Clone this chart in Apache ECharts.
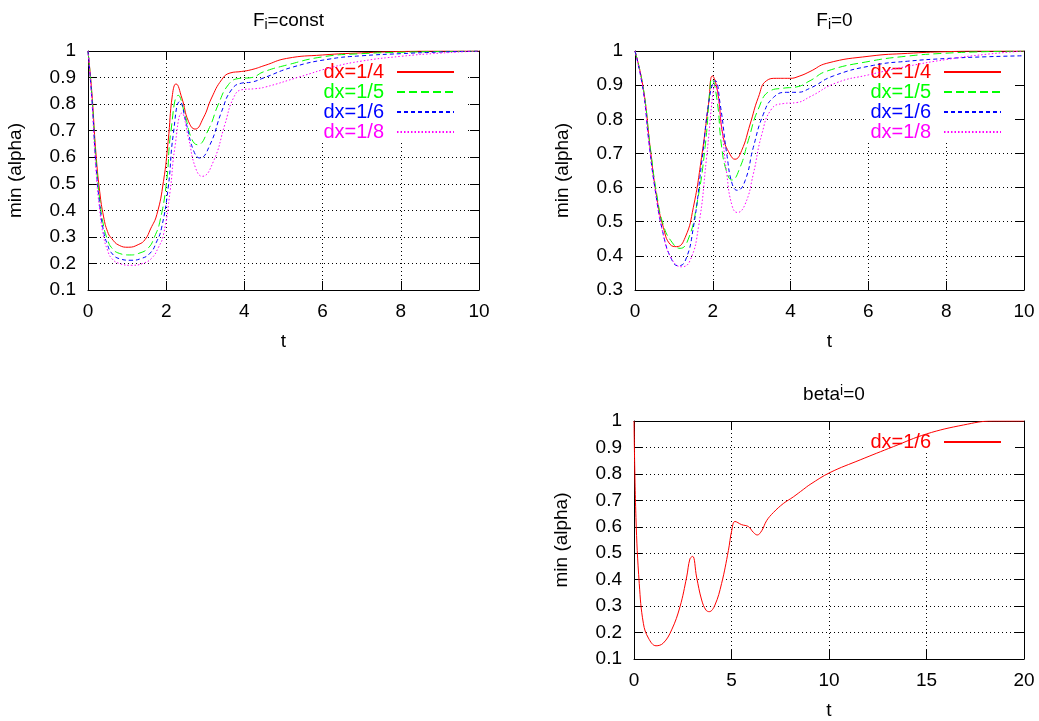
<!DOCTYPE html>
<html>
<head>
<meta charset="utf-8">
<script src="https://cdn.jsdelivr.net/npm/echarts@6.0.0/dist/echarts.min.js"></script>
<style>html,body{margin:0;padding:0;background:#fff;}#chart{width:1039px;height:721px;}</style>
</head>
<body>
<div id="chart"></div>
<script>
// ---------- Panel 1: F_i = const ----------
const tConst14 = [0, 0.1, 0.2, 0.3, 0.4, 0.5, 0.6, 0.8, 1.03, 1.3, 1.46, 1.6, 1.76, 1.93, 2.05, 2.16, 2.25, 2.4, 2.57, 2.74, 2.95, 3.16, 3.42, 3.63, 3.93, 4.19, 4.53, 5.08, 6.0, 7.0, 8.0, 9.0, 10];
const vConst14 = [1, 0.84, 0.62, 0.47, 0.375, 0.32, 0.295, 0.268, 0.261, 0.272, 0.29, 0.33, 0.384, 0.509, 0.66, 0.836, 0.876, 0.823, 0.735, 0.706, 0.748, 0.823, 0.892, 0.917, 0.923, 0.93, 0.946, 0.972, 0.985, 0.993, 0.998, 1, 1];
const tConst15 = [0, 0.1, 0.2, 0.3, 0.4, 0.5, 0.6, 0.8, 1.07, 1.3, 1.54, 1.7, 1.84, 2.01, 2.12, 2.31, 2.48, 2.65, 2.8, 3.08, 3.33, 3.59, 3.84, 4.19, 4.48, 5.08, 6.0, 7.0, 8.0, 9.0, 10];
const vConst15 = [1, 0.83, 0.6, 0.44, 0.34, 0.29, 0.26, 0.238, 0.232, 0.238, 0.258, 0.3, 0.359, 0.509, 0.697, 0.833, 0.76, 0.67, 0.647, 0.704, 0.798, 0.873, 0.896, 0.9, 0.921, 0.947, 0.978, 0.99, 0.995, 0.998, 1];
const tConst16 = [0, 0.1, 0.2, 0.3, 0.4, 0.5, 0.6, 0.8, 1.1, 1.35, 1.59, 1.75, 1.88, 2.05, 2.18, 2.35, 2.52, 2.7, 2.86, 3.12, 3.42, 3.67, 3.93, 4.19, 4.48, 5.25, 6.19, 7.0, 8.0, 9.0, 10];
const vConst16 = [1, 0.82, 0.58, 0.42, 0.32, 0.27, 0.24, 0.218, 0.212, 0.218, 0.239, 0.28, 0.333, 0.484, 0.685, 0.81, 0.723, 0.625, 0.597, 0.647, 0.773, 0.854, 0.879, 0.883, 0.898, 0.94, 0.97, 0.982, 0.99, 0.996, 1];
const tConst18 = [0, 0.1, 0.2, 0.3, 0.4, 0.5, 0.6, 0.8, 1.12, 1.4, 1.63, 1.8, 1.93, 2.1, 2.22, 2.4, 2.57, 2.75, 2.92, 3.21, 3.5, 3.72, 3.93, 4.27, 4.53, 5.42, 6.27, 7.0, 8.0, 9.0, 10];
const vConst18 = [1, 0.81, 0.56, 0.40, 0.3, 0.25, 0.22, 0.2, 0.193, 0.2, 0.22, 0.26, 0.308, 0.472, 0.635, 0.766, 0.672, 0.56, 0.528, 0.585, 0.723, 0.823, 0.854, 0.858, 0.864, 0.903, 0.94, 0.962, 0.98, 0.992, 1];

// ---------- Panel 2: F_i = 0 ----------
const tZero14 = [0, 0.21, 0.39, 0.56, 0.73, 0.9, 1.07, 1.29, 1.5, 1.71, 1.89, 1.99, 2.12, 2.27, 2.44, 2.57, 2.74, 2.96, 3.17, 3.38, 3.64, 3.98, 4.24, 4.5, 4.93, 6.04, 7, 8, 9, 10];
const vZero14 = [1, 0.893, 0.717, 0.571, 0.483, 0.434, 0.427, 0.454, 0.542, 0.688, 0.844, 0.927, 0.883, 0.747, 0.698, 0.683, 0.708, 0.786, 0.864, 0.913, 0.92, 0.92, 0.927, 0.94, 0.964, 0.985, 0.993, 0.998, 1, 1];
const tZero15 = [0, 0.21, 0.39, 0.56, 0.73, 0.95, 1.16, 1.37, 1.59, 1.8, 1.93, 1.97, 2.1, 2.23, 2.36, 2.49, 2.7, 2.91, 3.17, 3.47, 3.81, 4.16, 4.5, 4.93, 6.04, 7, 7.9, 9, 10];
const vZero15 = [1, 0.893, 0.72, 0.58, 0.49, 0.44, 0.422, 0.449, 0.551, 0.717, 0.893, 0.918, 0.864, 0.717, 0.645, 0.622, 0.659, 0.737, 0.83, 0.883, 0.891, 0.895, 0.913, 0.941, 0.97, 0.985, 0.993, 0.998, 1];
const tZero16 = [0, 0.21, 0.35, 0.51, 0.73, 0.94, 1.11, 1.29, 1.5, 1.71, 1.93, 2.06, 2.19, 2.36, 2.5, 2.63, 2.83, 3.04, 3.3, 3.56, 3.9, 4.16, 4.5, 5.1, 6.13, 7, 8, 9, 10];
const vZero16 = [1, 0.885, 0.74, 0.6, 0.462, 0.39, 0.371, 0.385, 0.483, 0.669, 0.874, 0.913, 0.844, 0.698, 0.61, 0.592, 0.62, 0.717, 0.815, 0.864, 0.879, 0.879, 0.891, 0.927, 0.958, 0.97, 0.978, 0.983, 0.986];
const tZero18 = [0, 0.21, 0.35, 0.51, 0.73, 0.95, 1.2, 1.41, 1.63, 1.84, 2.01, 2.06, 2.19, 2.36, 2.5, 2.63, 2.83, 3.04, 3.26, 3.51, 3.81, 4.16, 4.5, 5.18, 6, 7, 8, 9, 10];
const vZero18 = [1, 0.885, 0.74, 0.6, 0.46, 0.39, 0.368, 0.385, 0.483, 0.688, 0.883, 0.903, 0.815, 0.639, 0.545, 0.527, 0.551, 0.639, 0.756, 0.83, 0.846, 0.849, 0.866, 0.907, 0.93, 0.955, 0.975, 0.99, 1];

// ---------- Panel 3: beta^i = 0 ----------
const tBeta16 = [0, 0.1, 0.27, 0.48, 0.74, 1.13, 1.5, 1.93, 2.36, 2.7, 2.87, 3.01, 3.21, 3.47, 3.69, 3.86, 4.15, 4.49, 4.84, 5.01, 5.18, 5.52, 5.86, 6.12, 6.32, 6.55, 6.8, 7.15, 7.66, 8.17, 8.68, 9.03, 10.05, 11.6, 13.3, 15, 16.9, 18.4, 20];
const vBeta16 = [1, 0.635, 0.385, 0.235, 0.179, 0.15, 0.16, 0.21, 0.298, 0.41, 0.479, 0.488, 0.41, 0.323, 0.285, 0.279, 0.304, 0.385, 0.51, 0.585, 0.62, 0.608, 0.601, 0.579, 0.569, 0.585, 0.623, 0.654, 0.688, 0.713, 0.741, 0.76, 0.805, 0.853, 0.903, 0.951, 0.985, 1.0, 1.0];

// labels
const legendLabels = ['dx=1/4', 'dx=1/5', 'dx=1/6', 'dx=1/8'];
const yAxisName = 'min (alpha)';
const xAxisName = 't';

const FONT = 'Liberation Sans, Arial, Helvetica, sans-serif';
const FS = 19;
const colors = ['#ff0000', '#00ff00', '#0000ff', '#ff00ff'];
const dashes = ['solid', [8, 4], [4, 3], [1.5, 2]];

function zip(t, v) { return t.map((x, i) => [x, v[i]]); }

const grids = [
  { left: 88, top: 51, width: 391, height: 239 },
  { left: 635, top: 51, width: 389, height: 239 },
  { left: 634, top: 421, width: 390, height: 238 }
];
const xRanges = [[0, 10, 2], [0, 10, 2], [0, 20, 5]];
const yRanges = [[0.1, 1, 0.1], [0.3, 1, 0.1], [0.1, 1, 0.1]];

const xAxes = [], yAxes = [];
grids.forEach((g, i) => {
  const common = { type: 'value', gridIndex: i, min: xRanges[i][0], max: xRanges[i][1], interval: xRanges[i][2],
    axisLine: { show: true, onZero: false, lineStyle: { color: '#000', width: 1 } },
    axisTick: { show: true, inside: true, length: 9, lineStyle: { color: '#000' } } };
  xAxes.push(Object.assign({}, common, {
    position: 'bottom',
    name: xAxisName, nameLocation: 'middle', nameGap: 42,
    nameTextStyle: { fontFamily: FONT, fontSize: FS, color: '#000' },
    axisLabel: { show: true, margin: 12, fontFamily: FONT, fontSize: FS, color: '#000' },
    splitLine: { show: true, lineStyle: { color: '#000', type: [1, 3], width: 1 } }
  }));
  xAxes.push(Object.assign({}, common, {
    position: 'top', axisLabel: { show: false }, splitLine: { show: false }
  }));
  const ycommon = { type: 'value', gridIndex: i, min: yRanges[i][0], max: yRanges[i][1], interval: yRanges[i][2],
    axisLine: { show: true, onZero: false, lineStyle: { color: '#000', width: 1 } },
    axisTick: { show: true, inside: true, length: 9, lineStyle: { color: '#000' } } };
  yAxes.push(Object.assign({}, ycommon, {
    position: 'left',
    name: yAxisName, nameLocation: 'middle', nameGap: 63, nameRotate: 90,
    nameTextStyle: { fontFamily: FONT, fontSize: FS, color: '#000' },
    axisLabel: { show: true, margin: 12, fontFamily: FONT, fontSize: FS, color: '#000' },
    splitLine: { show: true, lineStyle: { color: '#000', type: [1, 3], width: 1 } }
  }));
  yAxes.push(Object.assign({}, ycommon, {
    position: 'right', axisLabel: { show: false }, splitLine: { show: false }
  }));
});

const panelData = [
  [zip(tConst14, vConst14), zip(tConst15, vConst15), zip(tConst16, vConst16), zip(tConst18, vConst18)],
  [zip(tZero14, vZero14), zip(tZero15, vZero15), zip(tZero16, vZero16), zip(tZero18, vZero18)]
];

const series = [];
const prefixes = ['a', 'b'];
panelData.forEach((pd, p) => {
  pd.forEach((d, k) => {
    series.push({
      type: 'line', name: prefixes[p] + '|' + legendLabels[k],
      xAxisIndex: p * 2, yAxisIndex: p * 2, data: d,
      showSymbol: false, symbol: 'none', smooth: 0.5,
      lineStyle: { color: colors[k], width: 1, type: dashes[k] },
      itemStyle: { color: colors[k] }, z: 3, animation: false
    });
  });
});
series.push({
  type: 'line', name: 'c|' + legendLabels[2],
  xAxisIndex: 4, yAxisIndex: 4, data: zip(tBeta16, vBeta16),
  showSymbol: false, symbol: 'none', smooth: 0.4,
  lineStyle: { color: colors[0], width: 1, type: 'solid' },
  itemStyle: { color: colors[0] }, z: 3, animation: false
});

function makeLegend(prefix, labels, cols, right, top) {
  return {
    orient: 'vertical', align: 'right', right: right, top: top,
    itemWidth: 57, itemHeight: 12, itemGap: 0,
    padding: [10, 13, 1, 5], backgroundColor: '#fff', z: 1,
    selectedMode: false,
    itemStyle: { opacity: 0 },
    formatter: n => n.split('|')[1],
    textStyle: { fontFamily: FONT, fontSize: 20, lineHeight: 19.5, padding: [0, 8, 0, 0] },
    data: labels.map((l, i) => ({ name: prefix + '|' + l, textStyle: { color: cols[i] } }))
  };
}

const subRich = {
  a: { fontFamily: FONT, fontSize: FS, fontWeight: 'normal', color: '#000', lineHeight: 22 },
  sub: { fontFamily: FONT, fontSize: 14, fontWeight: 'normal', color: '#000', lineHeight: 12, verticalAlign: 'bottom' },
  sup: { fontFamily: FONT, fontSize: 14, fontWeight: 'normal', color: '#000', lineHeight: 12, verticalAlign: 'top' }
};

const option = {
  backgroundColor: '#fff',
  animation: false,
  title: [
    { text: '{a|F}{sub|i}{a|=const}', left: 283.5, top: 5, textAlign: 'center', textStyle: { fontWeight: 'normal', rich: subRich } },
    { text: '{a|F}{sub|i}{a|=0}', left: 829.5, top: 5, textAlign: 'center', textStyle: { fontWeight: 'normal', rich: subRich } },
    { text: '{a|beta}{sup|i}{a|=0}', left: 829, top: 379, textAlign: 'center', textStyle: { fontWeight: 'normal', rich: subRich } }
  ],
  grid: grids,
  xAxis: xAxes,
  yAxis: yAxes,
  legend: [
    makeLegend('a', legendLabels, colors, 571, 52),
    makeLegend('b', legendLabels, colors, 24, 52),
    makeLegend('c', [legendLabels[2]], [colors[0]], 24, 422)
  ],
  series: series
};

const chart = echarts.init(document.getElementById('chart'), null, { renderer: 'canvas' });
chart.setOption(option);
</script>
</body>
</html>
